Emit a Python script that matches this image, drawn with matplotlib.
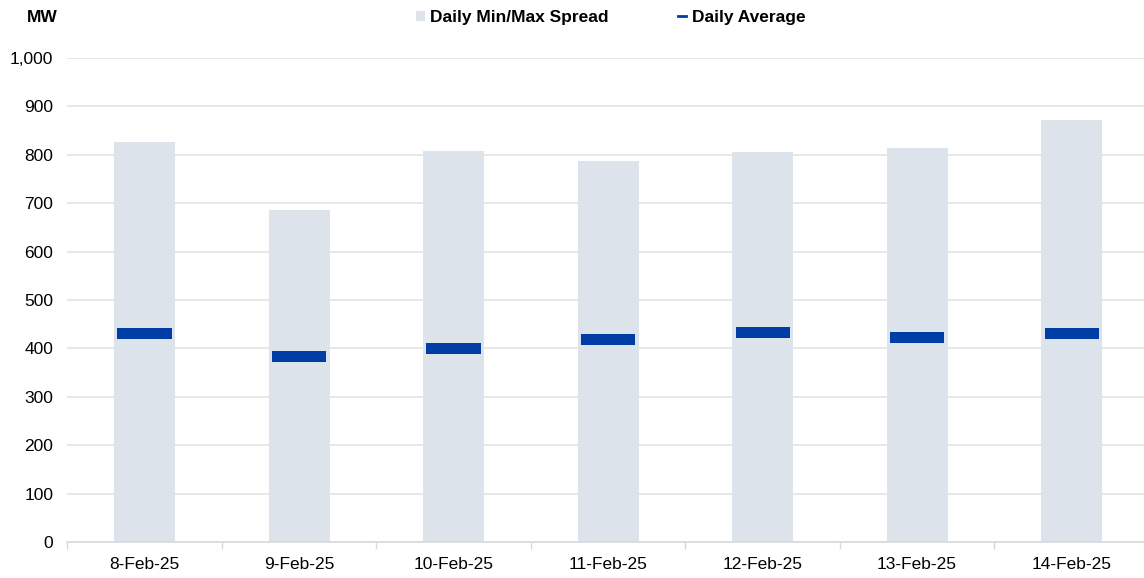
import matplotlib
matplotlib.use("Agg")
import matplotlib.pyplot as plt
from matplotlib.patches import Patch
from matplotlib.lines import Line2D
import numpy as np

categories = ["8-Feb-25", "9-Feb-25", "10-Feb-25", "11-Feb-25", "12-Feb-25", "13-Feb-25", "14-Feb-25"]
daily_min = [0, 0, 0, 0, 0, 0, 0]
daily_max = [826, 686, 807, 788, 806, 814, 872]
daily_avg = [430, 383, 400, 419, 433, 423, 431]

plt.rcParams['font.family'] = ['Liberation Sans', 'DejaVu Sans']

fig = plt.figure(figsize=(11.44, 5.78), dpi=100)
ax = fig.add_axes([0.0588, 0.0623, 0.9454, 0.8374])

x = np.arange(len(categories))
spread_color = "#DCE3EA"
avg_color = "#003DA5"

ax.bar(x, np.array(daily_max) - np.array(daily_min), bottom=daily_min, width=0.395,
       color=spread_color, zorder=2)
mark_h = 23
ax.bar(x, mark_h, bottom=np.array(daily_avg) - mark_h / 2, width=0.35,
       color=avg_color, zorder=3)

ax.set_xlim(-0.5, len(categories) - 0.5)
ax.set_ylim(0, 1000)
ax.set_yticks(np.arange(0, 1001, 100))
ax.set_yticklabels([f"{v:,}" for v in range(0, 1001, 100)])
ax.yaxis.grid(True, color="#E3E3E3", linewidth=1.2, zorder=0)
ax.set_axisbelow(True)

ax.set_xticks(x)
ax.set_xticklabels(categories)
ax.set_xticks(np.arange(-0.5, len(categories), 1), minor=True)
ax.tick_params(axis='x', which='major', length=0, pad=11, labelsize=12.5, colors="#000000")
ax.tick_params(axis='x', which='minor', length=5, color="#D9D9D9", width=1)
ax.tick_params(axis='y', length=0, pad=10, labelsize=12.5)

for s in ['top', 'right', 'left']:
    ax.spines[s].set_visible(False)
ax.spines['bottom'].set_color("#D9D9D9")
ax.spines['bottom'].set_linewidth(1.2)

fig.text(0.0236, 0.97, "MW", fontsize=12.5, fontweight='bold', va='center', ha='left')

handles = [Patch(facecolor=spread_color, edgecolor='none'),
           Line2D([0], [0], color=avg_color, linewidth=2)]
leg = fig.legend(handles, ["Daily Min/Max Spread", "Daily Average"], ncol=2,
                 loc='center', bbox_to_anchor=(0.5337, 0.97), frameon=False,
                 prop={'size': 12.5, 'weight': 'bold'}, handlelength=0.5,
                 handleheight=0.5, handletextpad=0.3, columnspacing=4.0)

fig.savefig("out.png", dpi=100)
